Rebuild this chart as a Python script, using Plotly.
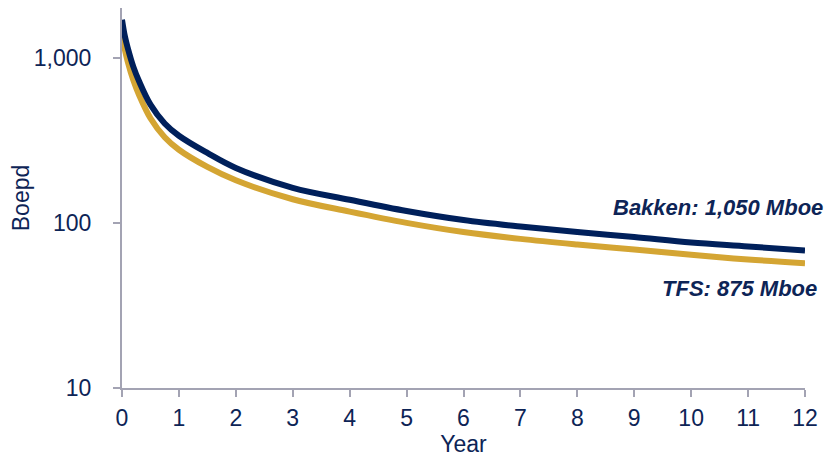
import plotly.graph_objects as go

years = [0, 0.05, 0.1, 0.2, 0.3, 0.5, 0.75, 1, 1.5, 2, 3, 4, 5, 6, 7, 8, 9, 10, 11, 12]
bakken = [1700, 1350, 1150, 880, 720, 520, 400, 337, 265, 215, 163, 138, 118, 104, 95, 88, 82, 76, 72, 68]
tfs = [1400, 1120, 950, 730, 595, 430, 330, 277, 218, 181, 139, 117, 100, 88, 80, 74, 69, 64, 60, 57]

y_ticks = [10, 100, 1000]
y_ticktext = ["10", "100", "1,000"]
x_ticks = list(range(0, 13))

NAVY = "#00205b"
GOLD = "#d4a533"
AXIS = "#a3a3b3"
TEXT = "#0d2456"
FONT = "Liberation Sans, Arial, sans-serif"

fig = go.Figure()
fig.add_trace(go.Scatter(x=years, y=tfs, mode="lines", name="TFS",
                         line=dict(color=GOLD, width=6, shape="spline", smoothing=1.0)))
fig.add_trace(go.Scatter(x=years, y=bakken, mode="lines", name="Bakken",
                         line=dict(color=NAVY, width=6, shape="spline", smoothing=1.0)))

fig.add_annotation(x=1.029, y=2.09, xref="paper", yref="y", text="<b><i>Bakken: 1,050 Mboe</i></b>",
                   showarrow=False, xanchor="right", yanchor="middle",
                   font=dict(family=FONT, size=22, color=TEXT))
fig.add_annotation(x=1.021, y=1.6, xref="paper", yref="y", text="<b><i>TFS: 875 Mboe</i></b>",
                   showarrow=False, xanchor="right", yanchor="middle",
                   font=dict(family=FONT, size=22, color=TEXT))

fig.update_layout(
    width=835, height=456,
    margin=dict(l=114, r=38, t=0, b=76),
    plot_bgcolor="white", paper_bgcolor="white",
    showlegend=False,
    font=dict(family=FONT, size=23, color=TEXT),
)
fig.update_xaxes(
    range=[0, 12], tickvals=x_ticks, ticks="outside", ticklen=7, tickcolor=AXIS, tickwidth=2,
    showline=True, linecolor=AXIS, linewidth=2, showgrid=False, zeroline=False,
    title=dict(text="Year", standoff=0, font=dict(size=23, color=TEXT)),
    tickfont=dict(size=23, color=TEXT), ticklabelstandoff=1,
)
fig.update_yaxes(
    type="log", range=[1, 3.301], tickvals=y_ticks, ticktext=y_ticktext,
    ticks="outside", ticklen=7, tickcolor=AXIS, tickwidth=2,
    showline=True, linecolor=AXIS, linewidth=2, showgrid=False, zeroline=False,
    title=dict(text="Boepd", standoff=8, font=dict(size=23, color=TEXT)),
    tickfont=dict(size=23, color=TEXT), ticklabelstandoff=17,
)

fig.write_html("out.html")
